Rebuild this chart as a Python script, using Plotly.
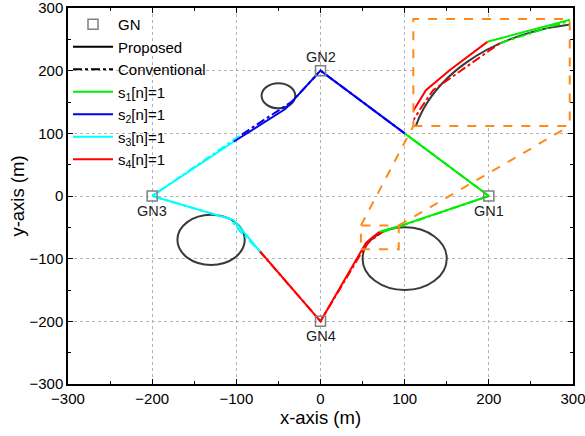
import plotly.graph_objects as go

# ---------------- data ----------------
gn_x = [200, 0, -200, 0]
gn_y = [0, 200, 0, -200]
gn_labels = ["GN1", "GN2", "GN3", "GN4"]
gn_label_pos = ["below", "above", "below", "below"]

obs_cx = [-50, -130, 100]
obs_cy = [160, -70, -100]
obs_r = [20, 40, 50]

# proposed trajectory, split by scheduled GN
prop_s1_x = [70.2, 91.0, 200, 100]
prop_s1_y = [-57.0, -49.2, 0, 100]
prop_s2_x = [100, 0, -41.9, -103.2]
prop_s2_y = [100, 200, 138.7, 86.6]
prop_s3_x = [-103.2, -200, -103.2, -71.5]
prop_s3_y = [86.6, 0, -38.3, -88.9]
prop_s4_x = [-71.5, 0, 51.0, 54.1, 60.4, 70.2]
prop_s4_y = [-88.9, -200, -81.9, -74.8, -67.4, -57.0]

# conventional trajectory
conv_s1_x = [73.5, 91.0, 200, 100]
conv_s1_y = [-57.5, -50.0, 0, 100]
conv_s2_x = [100, 0, -34, -96]
conv_s2_y = [100, 200, 150.5, 96]
conv_s3_x = [-96, -200, -108, -95, -73]
conv_s3_y = [96, 0, -36, -57, -87]
conv_s4_x = [-73, 0, 53.0, 56.0, 73.5]
conv_s4_y = [-87, -200, -80.9, -74.8, -57.5]

# zoom window drawn on the main plot, inset box and inset view
zoom_box_x = [48, 93]
zoom_box_y = [-85, -47]
inset_box_x = [110.3, 296.1]
inset_box_y = [111.7, 282.4]
inset_view_x = [50.8, 91.8]
inset_view_y = [-88, -48.6]

axis_range = [-300, 300]
tick_vals = [-300, -200, -100, 0, 100, 200, 300]

seg_colors = ["#00ee00", "#0000ee", "#00ffff", "#ff0000"]
seg_names = ["s<sub>1</sub>[n]=1", "s<sub>2</sub>[n]=1", "s<sub>3</sub>[n]=1", "s<sub>4</sub>[n]=1"]

prop = [(prop_s1_x, prop_s1_y), (prop_s2_x, prop_s2_y), (prop_s3_x, prop_s3_y), (prop_s4_x, prop_s4_y)]
conv = [(conv_s1_x, conv_s1_y), (conv_s2_x, conv_s2_y), (conv_s3_x, conv_s3_y), (conv_s4_x, conv_s4_y)]

FONT = "Liberation Sans, Arial, sans-serif"
ORANGE = "#ff8a1c"
OBS_COLOR = "#3a3a3a"

fig = go.Figure()

for ax, ay in [("x", "y"), ("x2", "y2")]:
    for (xs, ys), c in zip(conv, seg_colors):
        fig.add_trace(go.Scatter(x=xs, y=ys, mode="lines", xaxis=ax, yaxis=ay,
                                 line=dict(color=c, width=2, dash="dashdot"),
                                 showlegend=False, hoverinfo="skip"))
    for (xs, ys), c in zip(prop, seg_colors):
        fig.add_trace(go.Scatter(x=xs, y=ys, mode="lines", xaxis=ax, yaxis=ay,
                                 line=dict(color=c, width=2),
                                 showlegend=False, hoverinfo="skip"))

# GN markers
fig.add_trace(go.Scatter(x=gn_x, y=gn_y, mode="markers", name="GN",
                         marker=dict(symbol="square-open", size=10, color="#808080",
                                     line=dict(width=1.5, color="#808080")),
                         legendrank=1))

# legend-only entries
fig.add_trace(go.Scatter(x=[None], y=[None], mode="lines", name="Proposed",
                         line=dict(color="black", width=2), legendrank=2))
fig.add_trace(go.Scatter(x=[None], y=[None], mode="lines", name="Conventional",
                         line=dict(color="black", width=2, dash="dashdot"), legendrank=3))
for i, (c, n) in enumerate(zip(seg_colors, seg_names)):
    fig.add_trace(go.Scatter(x=[None], y=[None], mode="lines", name=n,
                             line=dict(color=c, width=2), legendrank=4 + i))

shapes = []
for cx, cy, r in zip(obs_cx, obs_cy, obs_r):
    for xr, yr in [("x", "y"), ("x2", "y2")]:
        shapes.append(dict(type="circle", xref=xr, yref=yr, x0=cx - r, x1=cx + r,
                           y0=cy - r, y1=cy + r, line=dict(color=OBS_COLOR, width=2),
                           layer="between"))
orange_line = dict(color=ORANGE, width=2, dash="dash")
shapes.append(dict(type="rect", xref="x", yref="y", x0=zoom_box_x[0], x1=zoom_box_x[1],
                   y0=zoom_box_y[0], y1=zoom_box_y[1], line=orange_line, layer="above"))
shapes.append(dict(type="rect", xref="x", yref="y", x0=inset_box_x[0], x1=inset_box_x[1],
                   y0=inset_box_y[0], y1=inset_box_y[1], line=orange_line, layer="above"))
shapes.append(dict(type="line", xref="x", yref="y", x0=zoom_box_x[0], y0=zoom_box_y[1],
                   x1=inset_box_x[0], y1=inset_box_y[0], line=orange_line, layer="above"))
shapes.append(dict(type="line", xref="x", yref="y", x0=zoom_box_x[1], y0=zoom_box_y[1],
                   x1=inset_box_x[1], y1=inset_box_y[0], line=orange_line, layer="above"))

annotations = []
for x, y, t, p in zip(gn_x, gn_y, gn_labels, gn_label_pos):
    annotations.append(dict(x=x, y=y, xref="x", yref="y", text=t, showarrow=False,
                            yshift=14 if p == "above" else -15,
                            font=dict(family=FONT, size=14.5, color="#222")))

span = axis_range[1] - axis_range[0]
inset_dom_x = [(inset_box_x[0] - axis_range[0]) / span, (inset_box_x[1] - axis_range[0]) / span]
inset_dom_y = [(inset_box_y[0] - axis_range[0]) / span, (inset_box_y[1] - axis_range[0]) / span]

axis_common = dict(range=axis_range, tickvals=tick_vals, showline=True, linecolor="black",
                   linewidth=1.5, mirror="ticks", ticks="inside", ticklen=5, tickwidth=1.2,
                   tickcolor="black", showgrid=True, gridcolor="#b4b4b4", griddash="dot",
                   gridwidth=1, zeroline=False, automargin=False, ticklabeloverflow="allow",
                   tickfont=dict(family=FONT, size=15, color="black"),
                   minor=dict(dtick=50, tick0=-300, ticks="inside", ticklen=3, tickwidth=1.2,
                              tickcolor="black", showgrid=False))

fig.update_layout(
    width=585, height=436,
    margin=dict(l=67.5, r=11.5, t=8, b=52),
    paper_bgcolor="white", plot_bgcolor="white",
    font=dict(family=FONT, color="black"),
    xaxis=dict(domain=[0, 1], title=dict(text="x-axis (m)", font=dict(family=FONT, size=18.5), standoff=3),
               **axis_common),
    yaxis=dict(domain=[0, 1], title=dict(text="y-axis (m)", font=dict(family=FONT, size=18.5), standoff=0),
               **axis_common),
    xaxis2=dict(domain=inset_dom_x, range=inset_view_x, anchor="y2", visible=False),
    yaxis2=dict(domain=inset_dom_y, range=inset_view_y, anchor="x2", visible=False),
    legend=dict(x=0.0, y=1.0, xanchor="left", yanchor="top", bgcolor="rgba(0,0,0,0)",
                font=dict(family=FONT, size=15, color="black"), tracegroupgap=0,
                itemwidth=40),
    shapes=shapes,
    annotations=annotations,
    showlegend=True,
)

fig.write_html("out.html", config={"displayModeBar": False},
               post_script="document.body.style.margin='0';")
